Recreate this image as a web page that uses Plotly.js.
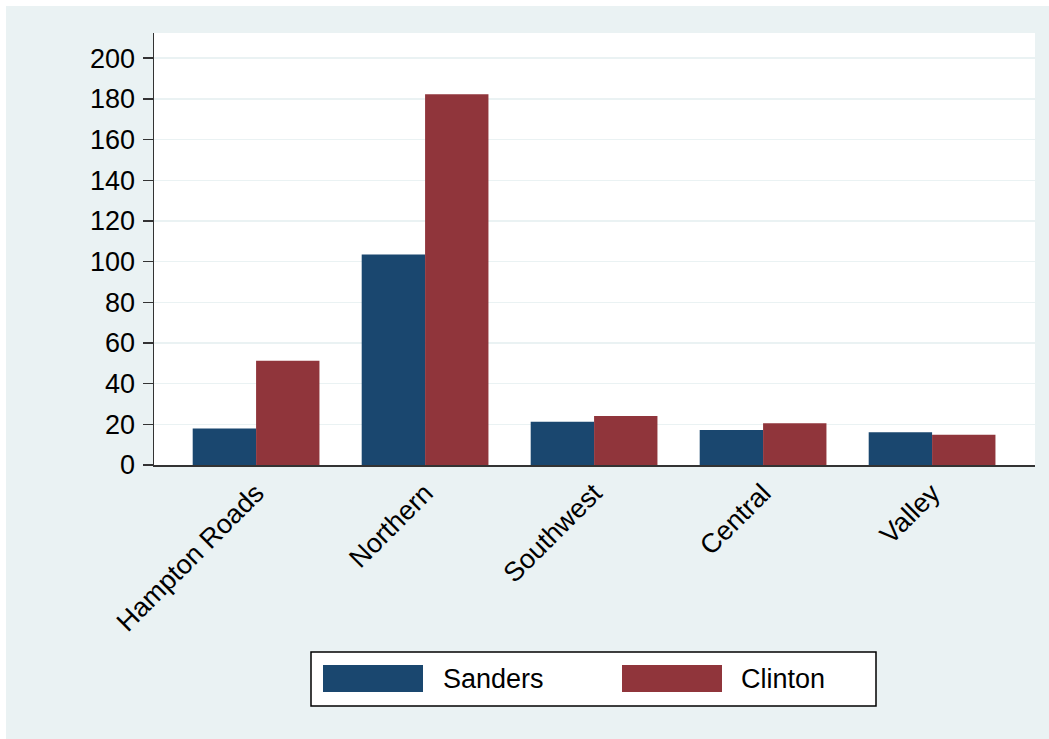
<!DOCTYPE html>
<html>
<head>
<meta charset="utf-8">
<script src="https://cdn.plot.ly/plotly-3.0.1.min.js"></script>
<style>
  html, body { margin: 0; padding: 0; background: #ffffff; }
  #chart { position: absolute; left: 6px; top: 6px; width: 1043px; height: 733px; }
</style>
</head>
<body>
<div id="chart"></div>
<script>
// ---- data ----
const regions = ["Hampton Roads", "Northern", "Southwest", "Central", "Valley"];
const seriesNames = ["Sanders", "Clinton"];
const sanders = [18.0, 103.5, 21.3, 17.2, 16.1];
const clinton = [51.3, 182.3, 24.1, 20.5, 14.9];
const yTicks = [0, 20, 40, 60, 80, 100, 120, 140, 160, 180, 200];
const colors = ["#1a476f", "#90353b"];

// ---- layout geometry (pixels within the chart div) ----
const W = 1043, H = 733;
const M = { l: 148, r: 14, t: 27, b: 274 };
const PW = W - M.l - M.r, PH = H - M.t - M.b;
const px = x => (x - M.l) / PW;
const py = y => 1 - (y - M.t) / PH;

const FS = 27;
const font = { family: "Liberation Sans, Arial, sans-serif", color: "#000000" };

const traces = [sanders, clinton].map((vals, i) => ({
  type: "bar",
  name: seriesNames[i],
  x: regions,
  y: vals,
  marker: { color: colors[i], line: { width: 0 } },
  showlegend: false,
  hoverinfo: "x+y+name"
}));

// custom legend (box, swatches, labels)
const legendBox = { x0: 305, x1: 870, y0: 646, y1: 700 };
const swatchX = [317, 616];
const labelX = [435, 733];
const shapes = [{
  type: "rect", xref: "paper", yref: "paper",
  x0: px(legendBox.x0), x1: px(legendBox.x1), y0: py(legendBox.y1), y1: py(legendBox.y0),
  fillcolor: "#ffffff", line: { color: "#000000", width: 1.5 }, layer: "above"
}];
const annotations = [];
seriesNames.forEach((name, i) => {
  shapes.push({
    type: "rect", xref: "paper", yref: "paper",
    x0: px(swatchX[i]), x1: px(swatchX[i] + 100), y0: py(686), y1: py(659),
    fillcolor: colors[i], line: { width: 0 }, layer: "above"
  });
  annotations.push({
    xref: "paper", yref: "paper", x: px(labelX[i]), y: py(673),
    xanchor: "left", yanchor: "middle", showarrow: false,
    text: name, font: Object.assign({ size: FS }, font)
  });
});

const layout = {
  width: W, height: H,
  margin: M,
  paper_bgcolor: "#eaf2f3",
  plot_bgcolor: "#ffffff",
  barmode: "group",
  bargap: 0.25,
  bargroupgap: 0,
  font: Object.assign({ size: FS }, font),
  xaxis: {
    type: "category",
    range: [-0.604, 4.609],
    tickangle: -45,
    ticks: "",
    showgrid: false,
    showline: true, linecolor: "#333333", linewidth: 1.5,
    zeroline: false,
    tickfont: Object.assign({ size: FS }, font),
    fixedrange: true
  },
  yaxis: {
    range: [0, 212.4],
    tickvals: yTicks,
    ticktext: yTicks.map(String),
    ticks: "outside", ticklen: 10, tickwidth: 1.5, tickcolor: "#333333",
    showline: true, linecolor: "#333333", linewidth: 1.5,
    showgrid: true, gridcolor: "#eaf2f3", gridwidth: 1.5,
    zeroline: false,
    ticklabelstandoff: 2,
    tickfont: Object.assign({ size: FS }, font),
    fixedrange: true
  },
  shapes: shapes,
  annotations: annotations
};

Plotly.newPlot("chart", traces, layout, { displayModeBar: false, staticPlot: true });
</script>
</body>
</html>
